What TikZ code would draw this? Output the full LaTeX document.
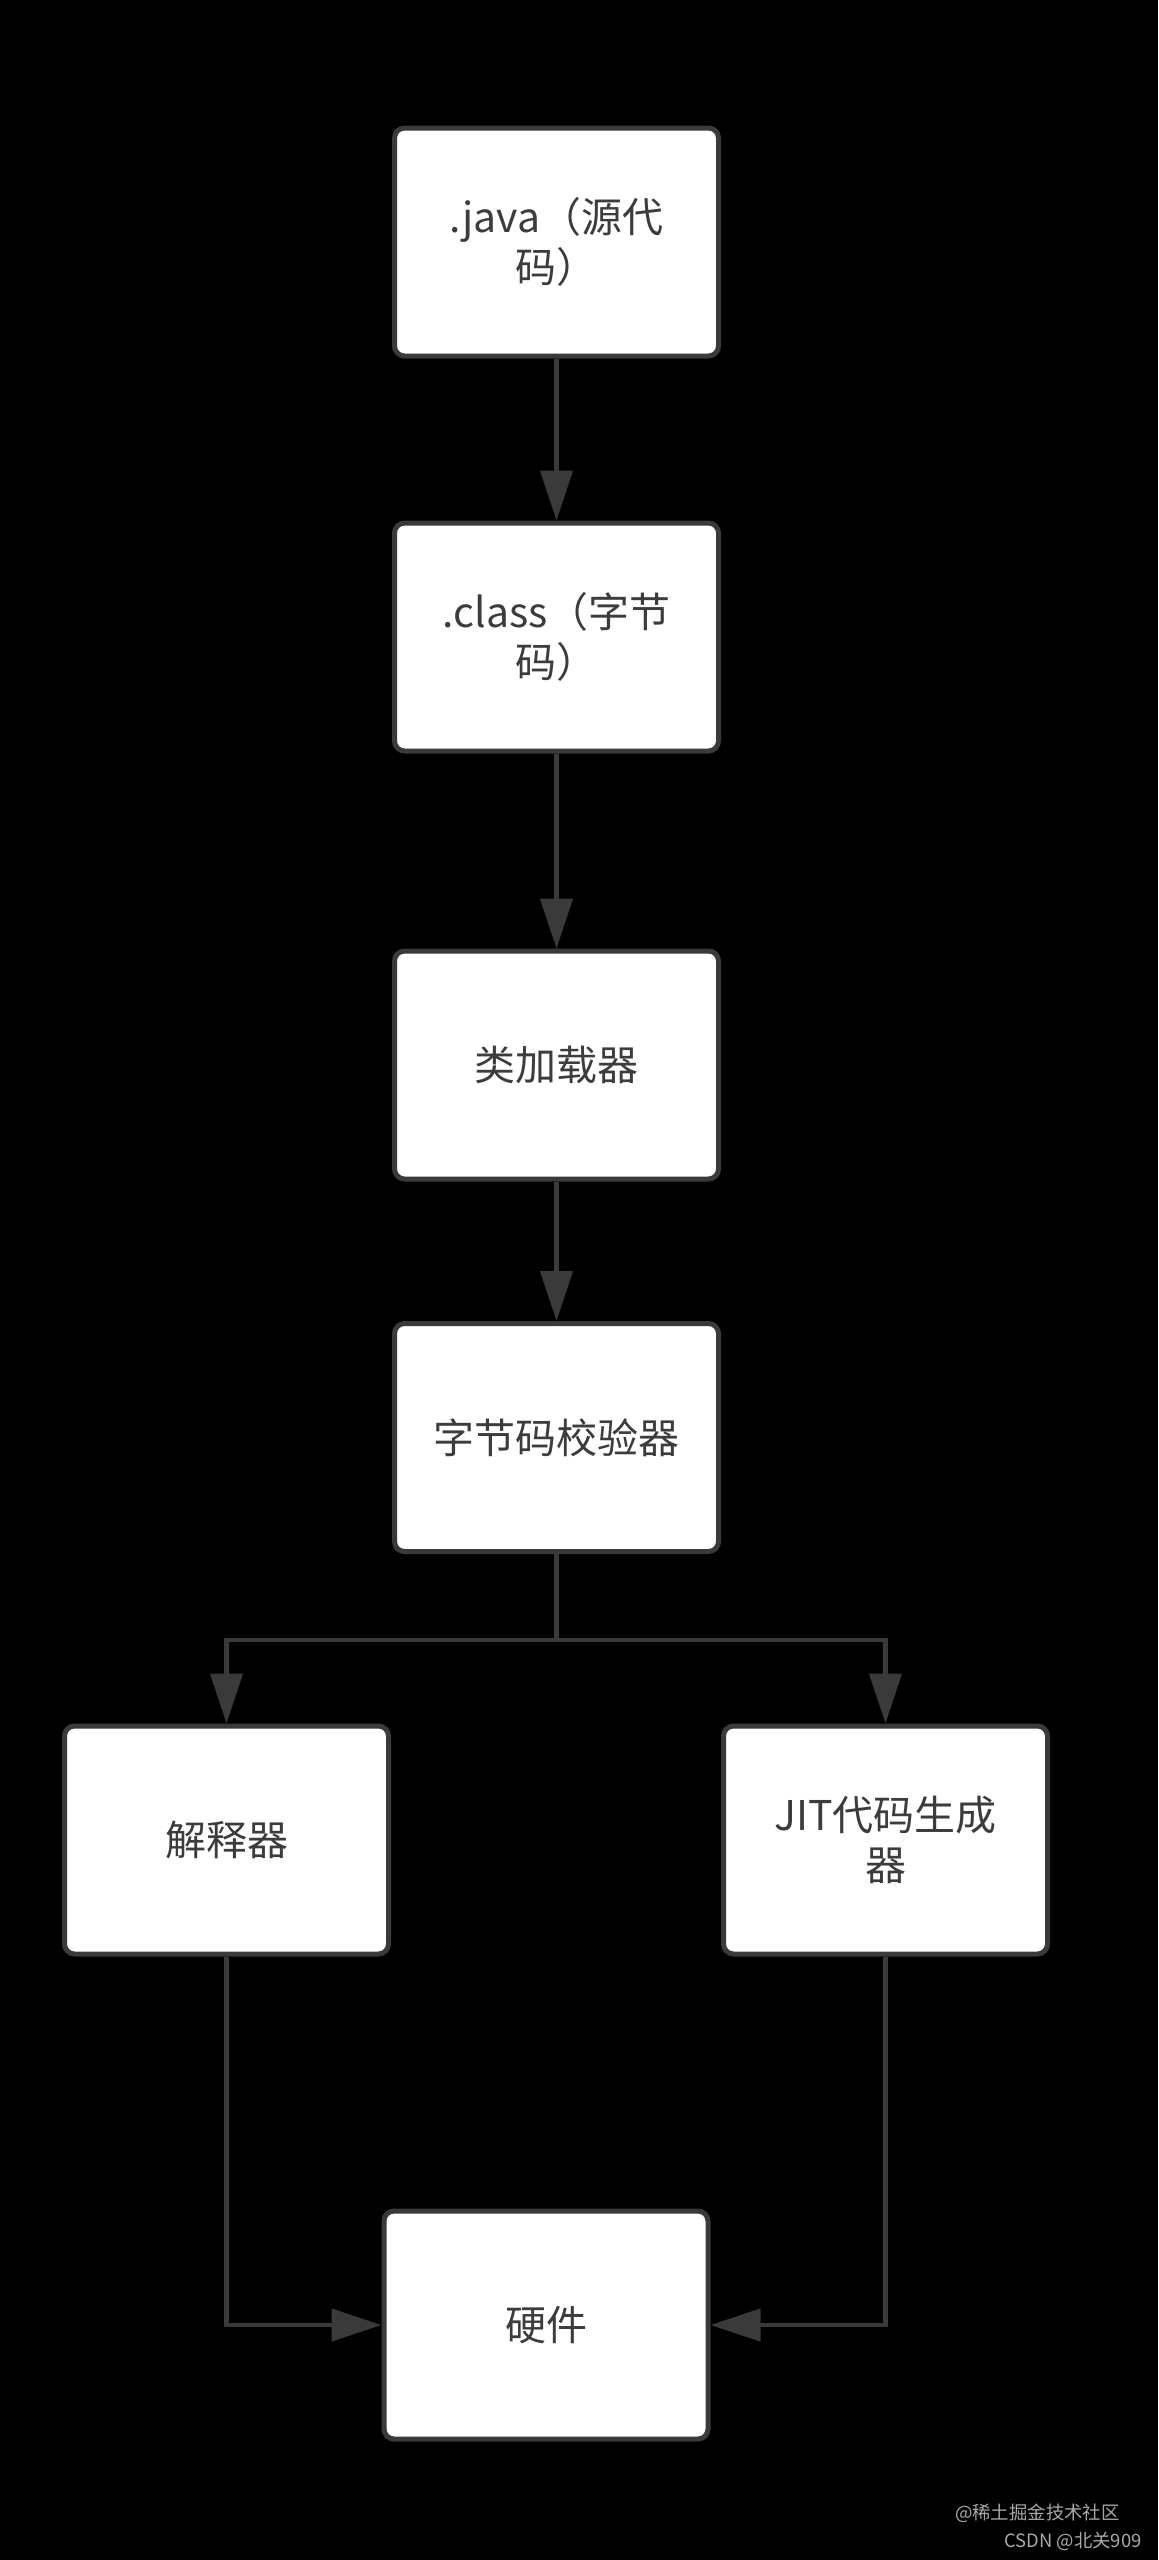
\documentclass[tikz,border=0pt]{standalone}
\usepackage{fontspec}
\setmainfont{Noto Sans CJK SC}
\usetikzlibrary{arrows.meta}
\definecolor{edgegray}{HTML}{3A3A3A}
\definecolor{txtgray}{HTML}{3C3C3C}
\definecolor{wmgray}{HTML}{A8A8A8}
\tikzset{
  stepbox/.style={draw=edgegray, line width=2.5pt, fill=white, rounded corners=5pt,
    minimum width=162pt, minimum height=114pt, inner sep=0pt,
    text=txtgray, font=\fontsize{20.5}{25}\selectfont, align=center},
  flow/.style={draw=edgegray, line width=2.2pt, -{Triangle[length=25pt,width=16pt]}},
  plainflow/.style={draw=edgegray, line width=2.2pt},
  wm/.style={text=wmgray, font=\fontsize{9.2}{10}\selectfont, inner sep=0pt}
}
\begin{document}
\begin{tikzpicture}[x=0.5pt,y=-0.5pt]
\fill[black] (0,0) rectangle (1158,2560);
\useasboundingbox (0,0) rectangle (1158,2560);
\node[stepbox] (java) at (556.5,242) {.java（源代\\码）};
\node[stepbox] (class) at (556.5,637) {.class（字节\\码）};
\node[stepbox] (loader) at (556.5,1065) {类加载器};
\node[stepbox] (verif) at (556.5,1437.5) {字节码校验器};
\node[stepbox] (interp) at (226.5,1840) {解释器};
\node[stepbox] (jit) at (885.5,1840) {JIT代码生成\\器};
\node[stepbox] (hw) at (546,2325) {硬件};
\coordinate (br) at (556.5,1640);
\draw[flow] (java) -- (class);
\draw[flow] (class) -- (loader);
\draw[flow] (loader) -- (verif);
\draw[plainflow] (verif) -- (br);
\draw[flow] (br) -| (interp.north);
\draw[flow] (br) -| (jit.north);
\draw[flow] (interp.south) |- (hw.west);
\draw[flow] (jit.south) |- (hw.east);
\node[wm, anchor=east] (wm1) at (1120,2513) {@稀土掘金技术社区};
\node[wm, anchor=east] (wm2) at (1142,2541) {CSDN @北关909};
\end{tikzpicture}
\end{document}
